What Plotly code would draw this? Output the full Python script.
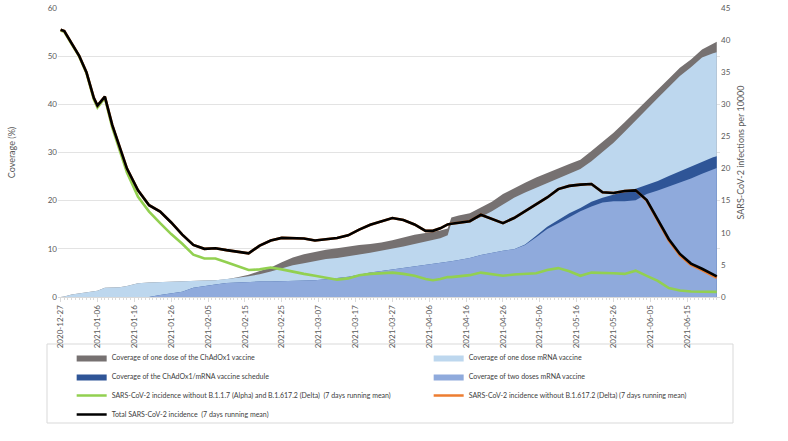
import plotly.graph_objects as go

dates = ["2020-12-27","2020-12-28","2020-12-30","2021-01-01","2021-01-03","2021-01-05","2021-01-06",
         "2021-01-08","2021-01-10","2021-01-12","2021-01-14","2021-01-17","2021-01-20","2021-01-23",
         "2021-01-26","2021-01-29","2021-02-01","2021-02-04","2021-02-07","2021-02-10","2021-02-13",
         "2021-02-16","2021-02-19","2021-02-22","2021-02-25","2021-02-28","2021-03-03","2021-03-06",
         "2021-03-09","2021-03-12","2021-03-15","2021-03-18","2021-03-21","2021-03-24","2021-03-27",
         "2021-03-30","2021-04-02","2021-04-05","2021-04-07","2021-04-09","2021-04-11","2021-04-12",
         "2021-04-14","2021-04-17","2021-04-20","2021-04-23","2021-04-26","2021-04-29","2021-05-02",
         "2021-05-05","2021-05-08","2021-05-11","2021-05-14","2021-05-17","2021-05-20","2021-05-23",
         "2021-05-26","2021-05-29","2021-06-01","2021-06-04","2021-06-07","2021-06-10","2021-06-13",
         "2021-06-16","2021-06-19","2021-06-22","2021-06-23"]

# Coverage (%) - visible levels of each band
chadox1_one_dose = [0, 0.1, 0.5, 0.7, 0.9, 1.1, 1.3, 1.9, 2.0, 2.0, 2.3, 2.85, 3.0, 3.05, 3.1, 3.2, 3.3, 3.4, 3.5, 3.7,
                    4.1, 4.6, 5.4, 6.1, 7.2, 8.2, 8.9, 9.4, 9.8, 10.1, 10.5, 10.8, 11.0, 11.3, 11.8, 12.4, 12.9,
                    13.3, 13.5, 13.8, 14.2, 16.5, 16.9, 17.4, 18.6, 19.8, 21.4, 22.6, 23.7, 24.8, 25.8, 26.7,
                    27.6, 28.5, 30.3, 32.2, 34.1, 36.3, 38.5, 40.7, 43.0, 45.3, 47.6, 49.3, 51.4, 52.7, 53.0]
mrna_one_dose = [0, 0.1, 0.5, 0.7, 0.9, 1.1, 1.3, 1.9, 2.0, 2.0, 2.3, 2.85, 3.0, 3.05, 3.1, 3.2, 3.3, 3.4, 3.5, 3.7,
                 4.0, 4.3, 4.7, 5.3, 6.0, 6.6, 7.0, 7.5, 7.9, 8.1, 8.4, 8.8, 9.2, 9.6, 10.1, 10.5, 11.0,
                 11.5, 11.8, 12.2, 12.8, 15.4, 15.5, 15.7, 16.6, 17.8, 19.2, 20.6, 21.7, 22.7, 23.7, 24.7,
                 25.7, 26.6, 28.2, 30.1, 32.0, 34.3, 36.7, 39.0, 41.3, 43.6, 45.9, 47.7, 49.7, 50.6, 50.8]
chadox1_mrna_schedule = [0, 0, 0, 0, 0, 0, 0, 0, 0, 0, 0, 0, 0, 0.4, 0.7, 1.1, 1.9, 2.3, 2.6, 2.9,
                         3.05, 3.15, 3.2, 3.2, 3.25, 3.3, 3.35, 3.5, 3.7, 3.9, 4.2, 4.6, 5.1, 5.4, 5.7, 6.0, 6.3,
                         6.6, 6.8, 7.0, 7.3, 7.4, 7.7, 8.1, 8.7, 9.2, 9.6, 9.9, 10.9, 12.7, 14.6, 16.0,
                         17.4, 18.5, 19.8, 20.6, 21.3, 21.9, 22.5, 23.3, 24.1, 25.1, 26.1, 27.0, 28.0, 29.0, 29.2]
mrna_two_doses = [0, 0, 0, 0, 0, 0, 0, 0, 0, 0, 0, 0, 0, 0.4, 0.7, 1.1, 1.9, 2.3, 2.6, 2.9,
                  3.05, 3.15, 3.2, 3.2, 3.25, 3.3, 3.35, 3.5, 3.7, 3.9, 4.2, 4.6, 5.1, 5.4, 5.7, 6.0, 6.3,
                  6.6, 6.8, 7.0, 7.3, 7.4, 7.7, 8.1, 8.7, 9.2, 9.6, 9.9, 10.8, 12.4, 14.1, 15.3,
                  16.6, 17.8, 18.8, 19.6, 19.9, 19.9, 20.1, 21.4, 22.1, 22.9, 23.7, 24.6, 25.6, 26.6, 26.8]

# Infections per 10000 (7 days running mean)
incidence_no_alpha_delta = [41.5, 41.3, 39.4, 37.5, 34.9, 30.8, 29.5, 31.0, 26.4, 22.8, 19.4, 15.6, 13.3, 11.5,
                            9.8, 8.3, 6.6, 6.0, 6.0, 5.4, 4.8, 4.2, 4.3, 4.6, 4.3, 3.9, 3.6, 3.3, 3.0, 2.7,
                            2.9, 3.4, 3.6, 3.7, 3.8, 3.6, 3.3, 2.8, 2.6, 2.8, 3.1, 3.1, 3.2, 3.4, 3.8, 3.6,
                            3.3, 3.5, 3.6, 3.7, 4.2, 4.5, 4.0, 3.3, 3.8, 3.8, 3.7, 3.6, 4.1, 3.3, 2.5, 1.4,
                            1.0, 0.85, 0.8, 0.8, 0.8]
incidence_no_delta = [41.6, 41.4, 39.5, 37.6, 35.0, 31.0, 29.8, 31.2, 26.8, 23.3, 20.0, 16.6, 14.3, 13.3,
                      11.6, 9.7, 8.1, 7.5, 7.6, 7.3, 7.1, 6.8, 8.0, 8.8, 9.2, 9.2, 9.1, 8.8, 9.0, 9.2,
                      9.6, 10.5, 11.25, 11.8, 12.3, 12.0, 11.3, 10.3, 10.3, 10.7, 11.3, 11.4, 11.6, 11.8,
                      12.8, 12.2, 11.5, 12.3, 13.4, 14.5, 15.5, 16.8, 17.3, 17.5, 17.6, 16.3, 16.2, 16.5,
                      16.6, 15.0, 11.9, 8.8, 6.5, 5.0, 4.2, 3.3, 3.0]
incidence_total = [41.6, 41.4, 39.5, 37.6, 35.0, 31.0, 29.8, 31.2, 26.8, 23.3, 20.0, 16.6, 14.3, 13.3,
                   11.6, 9.7, 8.1, 7.5, 7.6, 7.3, 7.1, 6.8, 8.0, 8.8, 9.2, 9.2, 9.1, 8.8, 9.0, 9.2,
                   9.6, 10.5, 11.25, 11.8, 12.3, 12.0, 11.3, 10.3, 10.3, 10.7, 11.3, 11.4, 11.6, 11.8,
                   12.8, 12.2, 11.5, 12.3, 13.4, 14.5, 15.5, 16.8, 17.3, 17.5, 17.6, 16.3, 16.2, 16.5,
                   16.6, 15.1, 12.1, 9.0, 6.7, 5.2, 4.4, 3.5, 3.2]

names = {
    "gray": "Coverage of one dose of the ChAdOx1 vaccine",
    "light": "Coverage of one dose mRNA vaccine",
    "dark": "Coverage of the ChAdOx1/mRNA vaccine schedule",
    "medium": "Coverage of two doses mRNA vaccine",
    "green": "SARS-CoV-2 incidence without B.1.1.7 (Alpha) and B.1.617.2 (Delta)  (7 days running mean)",
    "orange": "SARS-CoV-2 incidence without B.1.617.2 (Delta) (7 days running mean)",
    "black": "Total SARS-CoV-2 incidence  (7 days running mean)",
}

fig = go.Figure()
areas = [("gray", chadox1_one_dose, "#767171"),
         ("light", mrna_one_dose, "#bdd7ee"),
         ("dark", chadox1_mrna_schedule, "#2f5597"),
         ("medium", mrna_two_doses, "#8faadc")]
for key, vals, col in areas:
    fig.add_trace(go.Scatter(x=dates, y=vals, name=names[key], mode="lines",
                             line=dict(width=0, color=col), fill="tozeroy", fillcolor=col,
                             yaxis="y"))

lines = [("green", incidence_no_alpha_delta, "#92d050"),
         ("orange", incidence_no_delta, "#ed7d31"),
         ("black", incidence_total, "#000000")]
for key, vals, col in lines:
    fig.add_trace(go.Scatter(x=dates, y=vals, name=names[key], mode="lines",
                             line=dict(width=2.6, color=col), yaxis="y2"))

W, H = 788, 441
L, R, T, B = 58, 68, 8, 144
pw, ph = W - L - R, H - T - B

def px_x(x):
    return (x - L) / pw

def px_y(y):
    return (H - B - y) / ph

fig.update_layout(
    width=W, height=H,
    margin=dict(l=L, r=R, t=T, b=B, autoexpand=False),
    paper_bgcolor="white", plot_bgcolor="white",
    font=dict(family="Lato, Carlito, Liberation Sans, sans-serif", color="#595959", size=8),
    showlegend=True,
    legend=dict(orientation="h", x=-0.0005, y=px_y(343), xanchor="left", yanchor="top",
                entrywidth=298, entrywidthmode="pixels", font=dict(size=7, color="#404040"),
                bgcolor="rgba(0,0,0,0)", borderwidth=0, itemwidth=30, traceorder="normal",
                indentation=14),
    xaxis=dict(type="date", range=["2020-12-26 07:00", "2021-06-23 21:00"],
               tick0="2020-12-27", dtick=10 * 86400000, tickformat="%Y-%m-%d", tickangle=-90,
               showgrid=False, showline=True, linecolor="#d9d9d9", linewidth=1,
               ticks="outside", ticklen=4, tickcolor="#d9d9d9",
               minor=dict(dtick=86400000, tick0="2020-12-27", ticks="outside", ticklen=2, tickcolor="#d9d9d9"),
               tickfont=dict(size=8, color="#595959"), automargin=False, zeroline=False),
    yaxis=dict(range=[0, 60], dtick=10, showgrid=True, gridcolor="#e3e3e3", gridwidth=1,
               zeroline=False, showline=False, ticks="",
               tickfont=dict(size=8, color="#595959"),
               title=dict(text="Coverage (%)", font=dict(size=9, color="#595959"), standoff=30),
               automargin=False),
    yaxis2=dict(range=[0, 45], dtick=5, overlaying="y", side="right", showgrid=False,
                zeroline=False, showline=False, ticks="",
                tickfont=dict(size=8, color="#595959"),
                title=dict(text="SARS-CoV-2 infections per 10000", font=dict(size=9, color="#595959"), standoff=8),
                automargin=False),
    shapes=[dict(type="rect", xref="paper", yref="paper",
                 x0=px_x(47), x1=px_x(733), y0=px_y(344), y1=px_y(423),
                 line=dict(color="#d9d9d9", width=1), fillcolor="rgba(0,0,0,0)", layer="below")],
)

fig.write_html("out.html", config={"displayModeBar": False},
               post_script="document.body.style.margin='0px';")
